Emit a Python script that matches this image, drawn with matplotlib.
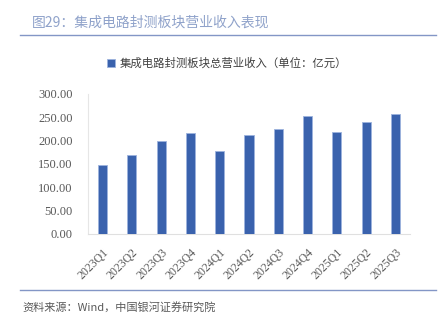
import matplotlib
matplotlib.use("Agg")
import matplotlib.pyplot as plt

categories = ["2023Q1", "2023Q2", "2023Q3", "2023Q4", "2024Q1", "2024Q2",
              "2024Q3", "2024Q4", "2025Q1", "2025Q2", "2025Q3"]
revenue = [146.6, 168.0, 198.0, 215.0, 177.0, 211.0, 224.0, 251.5, 219.0, 240.0, 256.0]
yticks = [0, 50, 100, 150, 200, 250, 300]

title = "图29：集成电路封测板块营业收入表现"
legend_label = "集成电路封测板块总营业收入（单位：亿元）"
source = "资料来源：Wind，中国银河证券研究院"

plt.rcParams['font.family'] = ['Noto Sans CJK SC', 'DejaVu Sans']

W, H = 440, 327
fig = plt.figure(figsize=(W / 100, H / 100), dpi=100)

ax = fig.add_axes([88 / W, 1 - 233.7 / H, (410 - 88) / W, 140 / H])
x = list(range(len(categories)))
bar_color = "#3A62AD"
ax.bar(x, revenue, width=0.31, color=bar_color, edgecolor="#9DB3DE", linewidth=0.6,
       label=legend_label, zorder=3)
ax.set_xlim(-0.5, len(categories) - 0.5)
ax.set_ylim(0, 300)
ax.set_yticks(yticks)
ax.set_yticklabels([f"{v:.2f}" for v in yticks], family=['Liberation Serif', 'DejaVu Serif'],
                   fontsize=9, color="#595959")
ax.set_xticks(x)
ax.set_xticklabels(categories, rotation=45, ha="right", rotation_mode="anchor",
                   family=['Liberation Serif', 'DejaVu Serif'], fontsize=8.5, color="#595959")
ax.tick_params(axis="y", length=0, pad=11)
ax.tick_params(axis="x", length=0, pad=9)
for s in ["top", "right"]:
    ax.spines[s].set_visible(False)
ax.spines["left"].set_color("#E6E6E6")
ax.spines["bottom"].set_color("#E0E0E0")
ax.spines["left"].set_linewidth(0.8)
ax.spines["bottom"].set_linewidth(0.8)

# legend
fig.legend(loc="center", bbox_to_anchor=(227 / W, 1 - 63 / H), frameon=False,
           fontsize=8.2, handlelength=0.7, handleheight=0.7, handletextpad=0.4,
           labelcolor="#404040")

# title and rules
fig.text(32 / W, 1 - 23 / H, title, fontsize=10, color="#8FA2CA", va="center", ha="left")
fig.add_artist(plt.Line2D([20 / W, 436 / W], [1 - 35 / H, 1 - 35 / H], color="#8396C6",
                          linewidth=1.0, transform=fig.transFigure))
fig.add_artist(plt.Line2D([20 / W, 436 / W], [1 - 290 / H, 1 - 290 / H], color="#8396C6",
                          linewidth=1.0, transform=fig.transFigure))
fig.text(22 / W, 1 - 307 / H, source, fontsize=8, color="#595959", va="center", ha="left",
         style="italic")

fig.savefig("out.png", dpi=100)
